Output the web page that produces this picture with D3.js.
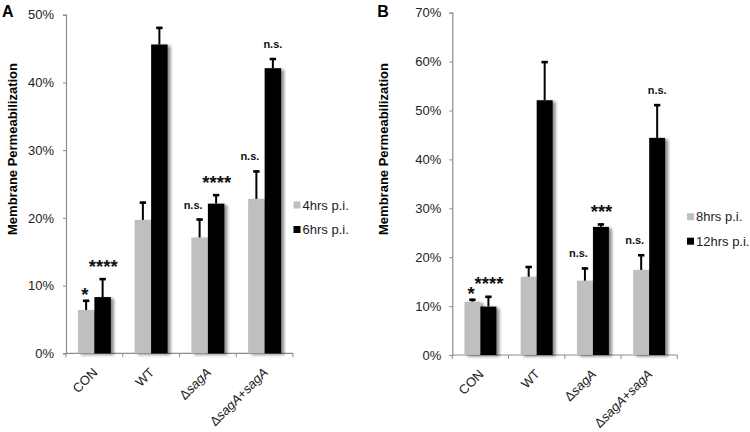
<!DOCTYPE html>
<html>
<head>
<meta charset="utf-8">
<script src="https://cdn.jsdelivr.net/npm/d3@7"></script>
<style>
  html, body { margin: 0; padding: 0; background: #fff; }
  svg { display: block; font-family: "Liberation Sans", Arial, sans-serif; }
</style>
</head>
<body>
<svg id="chart" width="750" height="432"></svg>
<script>
// ---- data ----
const categories = ["CON", "WT", "ΔsagA", "ΔsagA+sagA"];

const seriesA = ["4hrs p.i.", "6hrs p.i."];
const meansA4 = [6.4, 19.7, 17.1, 22.8];
const errA4   = [1.5, 2.7, 2.8, 4.2];
const meansA6 = [8.3, 45.6, 22.1, 42.1];
const errA6   = [2.8, 2.6, 1.4, 1.5];
const annotA4 = ["*", "", "n.s.", "n.s."];
const annotA6 = ["****", "", "****", "n.s."];
const ticksA  = [0, 10, 20, 30, 40, 50];

const seriesB  = ["8hrs p.i.", "12hrs p.i."];
const meansB8  = [10.9, 16.0, 15.2, 17.4];
const errB8    = [0.6, 2.2, 2.7, 3.2];
const meansB12 = [9.9, 52.1, 26.2, 44.4];
const errB12   = [2.2, 8.0, 0.7, 6.9];
const annotB8  = ["*", "", "n.s.", "n.s."];
const annotB12 = ["****", "", "***", "n.s."];
const ticksB   = [0, 10, 20, 30, 40, 50, 60, 70];

const yTitle = "Membrane Permeabilization";
const colors = ["#bfbfbf", "#000000"];

// ---- drawing ----
const svg = d3.select("#chart");
const defs = svg.append("defs");
const f = defs.append("filter").attr("id", "shadow")
  .attr("x", "-20%").attr("y", "-5%").attr("width", "160%").attr("height", "115%");
f.append("feDropShadow").attr("dx", 3).attr("dy", 1.5).attr("stdDeviation", 1.6)
  .attr("flood-color", "#000").attr("flood-opacity", 0.45);

function catLabel(sel, name) {
  const parts = name.match(/Δ|sagA|\+|[^Δ+]+/g);
  parts.forEach(p => {
    sel.append("tspan").text(p)
      .attr("font-style", p === "sagA" ? "italic" : "normal");
  });
}

function drawPanel(o) {
  const g = svg.append("g");
  const y = d3.scaleLinear().domain([0, o.ymax]).range([o.y0, o.y1]);
  const x0 = d3.scaleBand().domain(categories).range([o.xl, o.xr]).padding(0);
  const x1 = d3.scaleBand().domain(o.series).range([0, x0.step()])
    .paddingInner(0).paddingOuter(o.outer);

  g.append("text").attr("x", o.xl - o.letterDx).attr("y", 17)
    .attr("font-size", 16).attr("font-weight", "bold").attr("fill", "#000")
    .text(o.letter);

  g.append("text")
    .attr("transform", `translate(${o.xl - o.titleDx},149) rotate(-90)`)
    .attr("text-anchor", "middle").attr("font-size", 13).attr("font-weight", "bold")
    .attr("fill", "#000").text(yTitle);

  const yAxis = d3.axisLeft(y).tickValues(o.ticks).tickFormat(d => d + "%")
    .tickSize(3).tickPadding(o.tickPad);
  const ya = g.append("g").attr("transform", `translate(${o.xl},0)`).call(yAxis);
  ya.select(".domain").attr("stroke", "#8c8c8c").attr("stroke-width", 1.2);
  ya.selectAll(".tick line").attr("stroke", "#8c8c8c");
  ya.selectAll(".tick text").attr("font-size", 13).attr("fill", "#222")
    .attr("font-family", "Liberation Sans, Arial, sans-serif");

  const xa = g.append("g");
  xa.append("line").attr("x1", o.xl).attr("x2", o.xr)
    .attr("y1", y(0)).attr("y2", y(0)).attr("stroke", "#8c8c8c").attr("stroke-width", 1.2);
  const bounds = categories.map(c => x0(c)).concat([o.xr]);
  xa.selectAll("line.tk").data(bounds).join("line").attr("class", "tk")
    .attr("x1", d => d).attr("x2", d => d)
    .attr("y1", y(0)).attr("y2", y(0) + 4).attr("stroke", "#8c8c8c");

  categories.forEach(c => {
    const cx = x0(c) + x0.bandwidth() / 2;
    const t = xa.append("text")
      .attr("transform", `translate(${cx + 4},${y(0) + 20}) rotate(-45)`)
      .attr("text-anchor", "end").attr("font-size", 13).attr("fill", "#222");
    catLabel(t, c);
  });

  const data = [];
  categories.forEach((c, i) => {
    o.series.forEach((s, j) => {
      data.push({ c, s, j, v: o.means[j][i], e: o.errs[j][i], a: o.annots[j][i] });
    });
  });
  const bars = g.append("g").attr("filter", "url(#shadow)");
  bars.selectAll("rect").data(data).join("rect")
    .attr("x", d => x0(d.c) + x1(d.s))
    .attr("y", d => y(d.v))
    .attr("width", x1.bandwidth())
    .attr("height", d => y(0) - y(d.v))
    .attr("fill", d => colors[d.j]);

  const eb = g.append("g").attr("stroke", "#000");
  data.forEach(d => {
    const cx = x0(d.c) + x1(d.s) + x1.bandwidth() / 2;
    eb.append("line").attr("x1", cx).attr("x2", cx)
      .attr("y1", y(d.v)).attr("y2", y(d.v + d.e)).attr("stroke-width", 2);
    eb.append("line").attr("x1", cx - 3.2).attr("x2", cx + 3.2)
      .attr("y1", y(d.v + d.e) + 1).attr("y2", y(d.v + d.e) + 1).attr("stroke-width", 2.6);
  });

  data.filter(d => d.a).forEach(d => {
    const cx = x0(d.c) + x1(d.s) + x1.bandwidth() / 2;
    const top = y(d.v + d.e);
    const isNs = d.a === "n.s.";
    let dx = 0;
    if (isNs && d.j === 0) dx = -6.5;
    else if (d.a === "*") dx = -1.3;
    else if (!isNs) dx = 0.6;
    const yy = isNs ? top - 10 : (d.a.length > 1 ? top - 5.5 : top + 1);
    g.append("text").attr("x", cx + dx).attr("y", yy)
      .attr("text-anchor", "middle")
      .attr("font-size", isNs ? 11 : 18.5).attr("font-weight", "bold").attr("fill", "#111")
      .text(d.a);
  });

  const lg = g.append("g");
  o.series.forEach((s, j) => {
    const cy = o.legY + j * 24.5;
    lg.append("rect").attr("x", o.legX).attr("y", cy - 3.5).attr("width", 7).attr("height", 7)
      .attr("fill", colors[j]);
    lg.append("text").attr("x", o.legX + 9).attr("y", cy + 4.6)
      .attr("font-size", 13).attr("fill", "#222").text(s);
  });
}

drawPanel({
  letter: "A", letterDx: 64, titleDx: 49.5, tickPad: 9,
  xl: 66, xr: 293, y0: 353.3, y1: 14.7, ymax: 50, ticks: ticksA,
  series: seriesA, means: [meansA4, meansA6], errs: [errA4, errA6],
  annots: [annotA4, annotA6], outer: 0.72, legX: 293.5, legY: 205
});

drawPanel({
  letter: "B", letterDx: 75, titleDx: 64.3, tickPad: 8,
  xl: 452.3, xr: 677.3, y0: 355, y1: 12.7, ymax: 70, ticks: ticksB,
  series: seriesB, means: [meansB8, meansB12], errs: [errB8, errB12],
  annots: [annotB8, annotB12], outer: 0.76, legX: 687, legY: 216.7
});
</script>
</body>
</html>
